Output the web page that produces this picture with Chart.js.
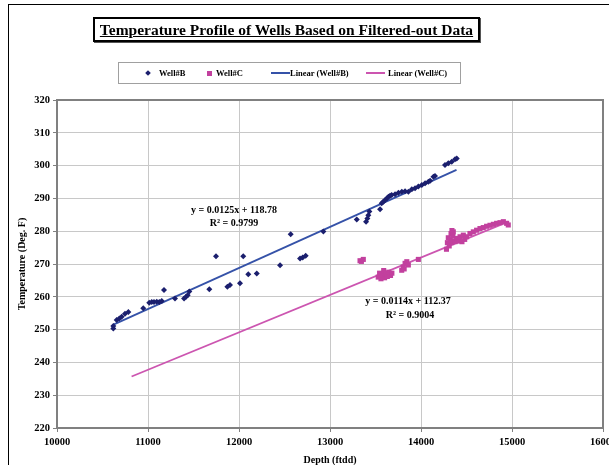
<!DOCTYPE html>
<html>
<head>
<meta charset="utf-8">
<script src="https://cdn.jsdelivr.net/npm/chart.js@4.4.1/dist/chart.umd.min.js"></script>
<style>
  html, body { margin: 0; padding: 0; background: #fff; overflow: hidden; width: 609px; height: 465px; }
  #frame { position: absolute; left: 8px; top: 4px; width: 700px; height: 600px; border-left: 1px solid #000; border-top: 1px solid #000; }
  #chart { position: absolute; left: 0; top: 0; }
  #title {
    position: absolute; left: 93px; top: 17px; width: 383px; height: 21px;
    border: 2px solid #000; box-shadow: 1px 1px 0 #555;
    font: bold 15.5px "Liberation Serif", serif; text-decoration: underline;
    text-align: center; line-height: 21px; white-space: nowrap; background: #fff;
  }
  #legend {
    position: absolute; left: 118px; top: 62px; width: 341px; height: 20px;
    border: 1px solid #a0a0a0; background: #fff;
    font: bold 8.5px "Liberation Serif", serif;
  }
  #legend span { position: absolute; top: 0; line-height: 20px; white-space: nowrap; }
  .mk { position: absolute; }
</style>
</head>
<body>
<div id="frame"></div>
<canvas id="chart" width="640" height="480"></canvas>
<div id="title">Temperature Profile of Wells Based on Filtered-out Data</div>
<div id="legend"></div>
<script>
// Series names
const seriesNames = ['Well#B', 'Well#C', 'Linear (Well#B)', 'Linear (Well#C)'];

// Well#B readings (depth ftdd, temperature deg F)
const depthB = [10619, 10619, 10656, 10685, 10711, 10747, 10784, 10948, 11014, 11041,
  11066, 11096, 11124, 11151, 11176, 11297, 11396, 11418, 11436, 11454,
  11674, 11747, 11872, 11901, 12011, 12047, 12102, 12195, 12451, 12568,
  12671, 12700, 12733, 12927, 13294, 13396, 13411, 13421, 13433, 13550,
  13568, 13586, 13605, 13624, 13642, 13660, 13678, 13715, 13752, 13789,
  13825, 13861, 13899, 13935, 13971, 14009, 14045, 14081, 14100, 14137,
  14154, 14264, 14300, 14338, 14374, 14393];
const tempB = [251.1, 250.3, 252.9, 253.4, 253.9, 254.8, 255.4, 256.5, 258.2, 258.4,
  258.4, 258.5, 258.4, 258.7, 262.1, 259.5, 259.5, 260.0, 260.5, 261.6,
  262.3, 272.4, 263.1, 263.6, 264.1, 272.4, 266.9, 267.1, 269.6, 279.1,
  271.7, 272.0, 272.5, 279.9, 283.6, 282.9, 283.9, 284.9, 286.0, 286.7,
  288.5, 289.0, 289.5, 290.0, 290.5, 290.8, 291.0, 291.3, 291.7, 292.0,
  292.2, 292.0, 292.8, 293.1, 293.6, 294.1, 294.6, 295.1, 295.4, 296.6,
  296.8, 300.2, 300.7, 301.2, 301.9, 302.2];

// Well#C readings
const depthC = [13330, 13345, 13366, 13530, 13545, 13560, 13575, 13590, 13600, 13615,
  13630, 13645, 13665, 13680, 13788, 13805, 13815, 13825, 13844, 13861,
  13971, 14280, 14290, 14300, 14310, 14320, 14330, 14338, 14340, 14350,
  14355, 14360, 14374, 14392, 14420, 14429, 14450, 14465, 14480, 14502,
  14538, 14575, 14611, 14648, 14684, 14721, 14758, 14795, 14831, 14868,
  14905, 14941, 14959];
const tempC = [271.0, 270.8, 271.4, 266.0, 267.2, 265.5, 266.8, 268.0, 265.8, 267.0,
  266.2, 267.5, 266.5, 267.2, 268.1, 269.1, 268.5, 270.2, 270.7, 269.7,
  271.4, 274.5, 276.5, 278.0, 275.5, 277.3, 279.3, 276.5, 280.2, 278.5,
  279.8, 277.0, 276.8, 277.8, 277.0, 278.3, 276.8, 278.8, 277.5, 278.3,
  279.3, 279.8, 280.3, 280.8, 281.1, 281.5, 281.8, 282.1, 282.4, 282.6,
  282.9, 282.4, 281.9];

// Trend line end points as drawn
const trendBDepth = [10620, 14390];
const trendBTemp = [251.5, 298.7];
const trendCDepth = [10820, 14960];
const trendCTemp = [235.7, 282.9];

// Trend equations shown on the chart
const eqB = ['y = 0.0125x + 118.78', 'R\u00b2 = 0.9799'];
const eqC = ['y = 0.0114x + 112.37', 'R\u00b2 = 0.9004'];

// Axis ranges
const xRange = [10000, 16000, 1000];
const yRange = [220, 320, 10];

const colB = '#1b1f6e', colC = '#c2409e', colTB = '#3552a8', colTC = '#cc55b0';
const serif = '"Liberation Serif", "Times New Roman", serif';

function pts(xs, ys) { return xs.map((x, i) => ({ x: x, y: ys[i] })); }

// HTML legend built from series names
const legendSpec = [
  { kind: 'diamond', color: colB, mk: 29, tx: 40 },
  { kind: 'square', color: colC, mk: 90, tx: 97 },
  { kind: 'line', color: colTB, mk: 152, tx: 171 },
  { kind: 'line', color: colTC, mk: 247, tx: 269 }
];
const legend = document.getElementById('legend');
legendSpec.forEach((s, i) => {
  const m = document.createElement('div');
  m.className = 'mk';
  if (s.kind === 'diamond') {
    Object.assign(m.style, { left: (s.mk - 2) + 'px', top: '8px', width: '4px', height: '4px', background: s.color, transform: 'rotate(45deg)' });
  } else if (s.kind === 'square') {
    Object.assign(m.style, { left: (s.mk - 2.5) + 'px', top: '7.5px', width: '5px', height: '5px', background: s.color });
  } else {
    Object.assign(m.style, { left: s.mk + 'px', top: '9px', width: '19px', height: '2px', background: s.color });
  }
  legend.appendChild(m);
  const t = document.createElement('span');
  t.textContent = seriesNames[i];
  t.style.left = s.tx + 'px';
  legend.appendChild(t);
});

const W = 640, H = 480;
const AREA = { left: 57, top: 100, right: 603, bottom: 428 };

const framePlugin = {
  id: 'plotFrame',
  beforeDatasetsDraw(chart) {
    const { ctx, chartArea: a } = chart;
    ctx.save();
    ctx.strokeStyle = '#808080';
    ctx.lineWidth = 2;
    ctx.strokeRect(a.left, a.top, a.right - a.left, a.bottom - a.top);
    ctx.restore();
  }
};

const eqPlugin = {
  id: 'equations',
  afterDatasetsDraw(chart) {
    const { ctx, scales: { x, y } } = chart;
    ctx.save();
    ctx.fillStyle = '#000';
    ctx.font = 'bold 10px ' + serif;
    ctx.textAlign = 'center';
    ctx.textBaseline = 'middle';
    ctx.fillText(eqB[0], x.getPixelForValue(11945), y.getPixelForValue(286.2));
    ctx.fillText(eqB[1], x.getPixelForValue(11945), y.getPixelForValue(282.3));
    ctx.fillText(eqC[0], x.getPixelForValue(13857), y.getPixelForValue(258.45));
    ctx.fillText(eqC[1], x.getPixelForValue(13880), y.getPixelForValue(254.4));
    ctx.restore();
  }
};

const tickFont = { family: serif, size: 10.5, weight: 'bold' };
const titleFont = { family: serif, size: 10, weight: 'bold' };

new Chart(document.getElementById('chart'), {
  type: 'scatter',
  data: {
    datasets: [
      { label: seriesNames[0], data: pts(depthB, tempB), pointStyle: 'rectRot', pointRadius: 3,
        backgroundColor: colB, borderColor: colB, borderWidth: 0, order: 1 },
      { label: seriesNames[1], data: pts(depthC, tempC), pointStyle: 'rect', pointRadius: 3.6,
        backgroundColor: colC, borderColor: colC, borderWidth: 0, order: 2 },
      { type: 'line', label: seriesNames[2], data: pts(trendBDepth, trendBTemp), borderColor: colTB,
        borderWidth: 1.8, pointRadius: 0, fill: false, order: 3 },
      { type: 'line', label: seriesNames[3], data: pts(trendCDepth, trendCTemp), borderColor: colTC,
        borderWidth: 1.8, pointRadius: 0, fill: false, order: 3 }
    ]
  },
  options: {
    responsive: false,
    animation: false,
    layout: { padding: { left: 0, top: AREA.top, right: W - AREA.right, bottom: 0 } },
    plugins: { legend: { display: false }, tooltip: { enabled: false } },
    scales: {
      x: {
        type: 'linear', min: xRange[0], max: xRange[1],
        afterFit(s) { s.height = H - AREA.bottom; },
        ticks: { stepSize: xRange[2], font: tickFont, color: '#000', padding: 4, maxRotation: 0,
          callback: v => String(v) },
        grid: { color: '#c8c8c8', lineWidth: 1, tickLength: 4, tickColor: '#808080' },
        border: { display: false },
        title: { display: true, text: 'Depth (ftdd)', font: titleFont, color: '#000', padding: { top: 0, bottom: 14 } }
      },
      y: {
        type: 'linear', min: yRange[0], max: yRange[1],
        afterFit(s) { s.width = AREA.left; },
        ticks: { stepSize: yRange[2], font: tickFont, color: '#000', padding: 3,
          callback: v => String(v) },
        grid: { color: '#c8c8c8', lineWidth: 1, tickLength: 4, tickColor: '#808080' },
        border: { display: false },
        title: { display: true, text: 'Temperature (Deg. F)', font: titleFont, color: '#000', padding: { top: 16, bottom: 0 } }
      }
    }
  },
  plugins: [framePlugin, eqPlugin]
});
</script>
</body>
</html>
